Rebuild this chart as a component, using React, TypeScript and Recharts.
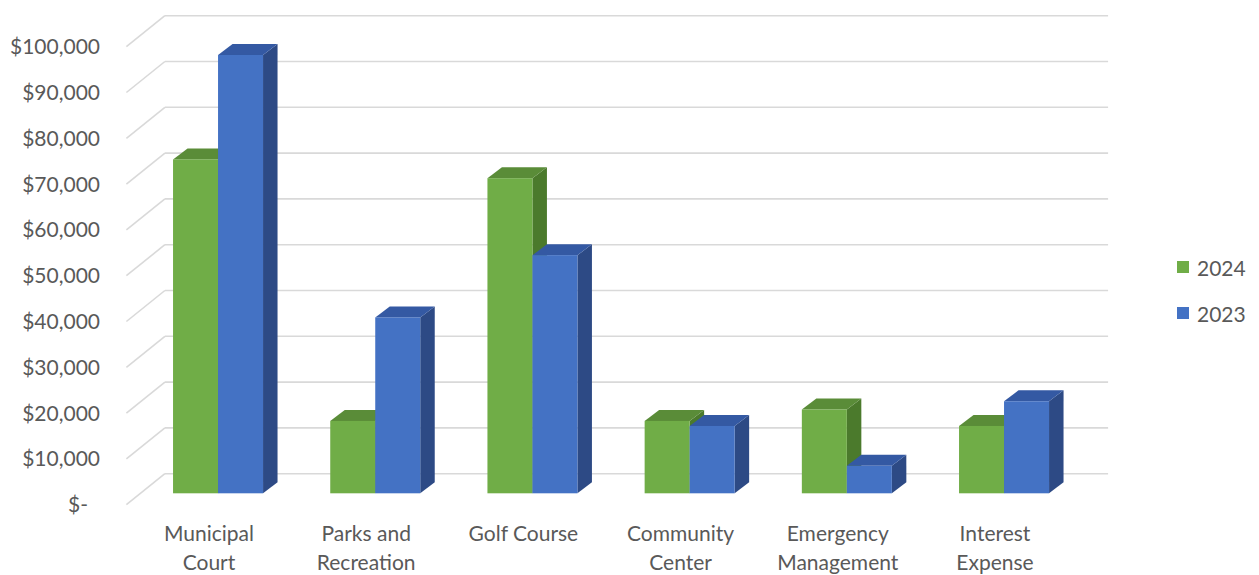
import { BarChart, Bar, XAxis, YAxis, CartesianGrid } from "recharts";

const categories = [
  "Municipal\nCourt",
  "Parks and\nRecreation",
  "Golf Course",
  "Community\nCenter",
  "Emergency\nManagement",
  "Interest\nExpense",
];
const values2024 = [72900, 15800, 68800, 15800, 18300, 14700];
const values2023 = [95700, 38400, 52000, 14700, 6000, 20100];
const yTicks = [0, 10000, 20000, 30000, 40000, 50000, 60000, 70000, 80000, 90000, 100000];

const data = categories.map((name, i) => ({
  name,
  y2024: values2024[i],
  y2023: values2023[i],
}));

const FONT = "Lato, 'Open Sans', sans-serif";
const TEXT = "#595959";
const GRID = "#D9D9D9";
const FS = 21;

// oblique depth: bar thickness and how far the wall / floor edge sit from the bar plane
const BAR_DX = 14.5;
const BAR_DY = -11;
const WALL_DX = 25.5;
const WALL_DY = -19.6;
const EDGE_DX = -13;
const EDGE_DY = 11.4;

const shades: Record<string, { top: string; side: string }> = {
  "#70AD47": { top: "#5A8C38", side: "#4B7A2C" },
  "#4472C4": { top: "#3459A3", side: "#2D4A85" },
};

function Column(props: any) {
  const { x, y, width, height, fill } = props;
  if (height == null || width == null) return null;
  const s = shades[fill];
  const top = `${x},${y} ${x + BAR_DX},${y + BAR_DY} ${x + width + BAR_DX},${y + BAR_DY} ${x + width},${y}`;
  const side = `${x + width},${y} ${x + width + BAR_DX},${y + BAR_DY} ${x + width + BAR_DX},${y + height + BAR_DY} ${x + width},${y + height}`;
  return (
    <g>
      <polygon points={side} fill={s.side} />
      <polygon points={top} fill={s.top} />
      <rect x={x} y={y} width={width} height={height} fill={fill} />
    </g>
  );
}

// back-wall line plus the diagonal running along the left side wall
function WallLine(props: any) {
  const { x1, x2, y1 } = props;
  return (
    <g key={props.key}>
      <line
        x1={x1 + EDGE_DX}
        y1={y1 + EDGE_DY}
        x2={x1 + WALL_DX}
        y2={y1 + WALL_DY}
        stroke={GRID}
        strokeWidth={1.6}
      />
      <line
        x1={x1 + WALL_DX}
        y1={y1 + WALL_DY}
        x2={x2 + WALL_DX}
        y2={y1 + WALL_DY}
        stroke={GRID}
        strokeWidth={1.6}
      />
    </g>
  );
}

function MoneyTick(props: any) {
  const { y, payload } = props;
  const v = payload.value as number;
  const label = v === 0 ? "$-" : "$" + v.toLocaleString("en-US");
  return (
    <text
      x={v === 0 ? 88 : 100}
      y={y + EDGE_DY}
      dy={7.5}
      textAnchor="end"
      fill={TEXT}
      fontSize={FS}
      fontFamily={FONT}
    >
      {label}
    </text>
  );
}

function CategoryTick(props: any) {
  const { x, payload } = props;
  const lines = String(payload.value).split("\n");
  return (
    <text textAnchor="middle" fill={TEXT} fontSize={FS} fontFamily={FONT}>
      {lines.map((t, i) => (
        <tspan key={i} x={x - 9} y={540.5 + i * 29}>
          {t}
        </tspan>
      ))}
    </text>
  );
}

const legendItems = [
  { label: "2024", color: "#70AD47" },
  { label: "2023", color: "#4472C4" },
];

function LegendBox() {
  return (
    <div
      style={{
        position: "absolute",
        left: 1177,
        top: 244,
        fontFamily: FONT,
        fontSize: FS,
        color: TEXT,
      }}
    >
      {legendItems.map((it) => (
        <div key={it.label} style={{ display: "flex", alignItems: "center", height: 46 }}>
          <span
            style={{
              width: 12,
              height: 12,
              background: it.color,
              display: "inline-block",
              marginRight: 8,
            }}
          />
          {it.label}
        </div>
      ))}
    </div>
  );
}

export default function App() {
  return (
    <div style={{ position: "absolute", left: 0, top: 0, width: 1259, height: 575, background: "#fff" }}>
      <BarChart
        width={1259}
        height={575}
        data={data}
        margin={{ top: 35.3, right: 176.4, bottom: 0, left: 0 }}
        barCategoryGap="21.4%"
        barGap={0}
      >
        <CartesianGrid vertical={false} horizontal={(p: any) => <WallLine {...p} />} />
        <XAxis
          dataKey="name"
          height={81.7}
          axisLine={false}
          tickLine={false}
          interval={0}
          tick={<CategoryTick />}
        />
        <YAxis
          width={139.4}
          domain={[0, 100000]}
          ticks={yTicks}
          axisLine={false}
          tickLine={false}
          tick={<MoneyTick />}
        />
        <Bar dataKey="y2024" name="2024" fill="#70AD47" shape={<Column />} isAnimationActive={false} />
        <Bar dataKey="y2023" name="2023" fill="#4472C4" shape={<Column />} isAnimationActive={false} />
      </BarChart>
      <LegendBox />
    </div>
  );
}
